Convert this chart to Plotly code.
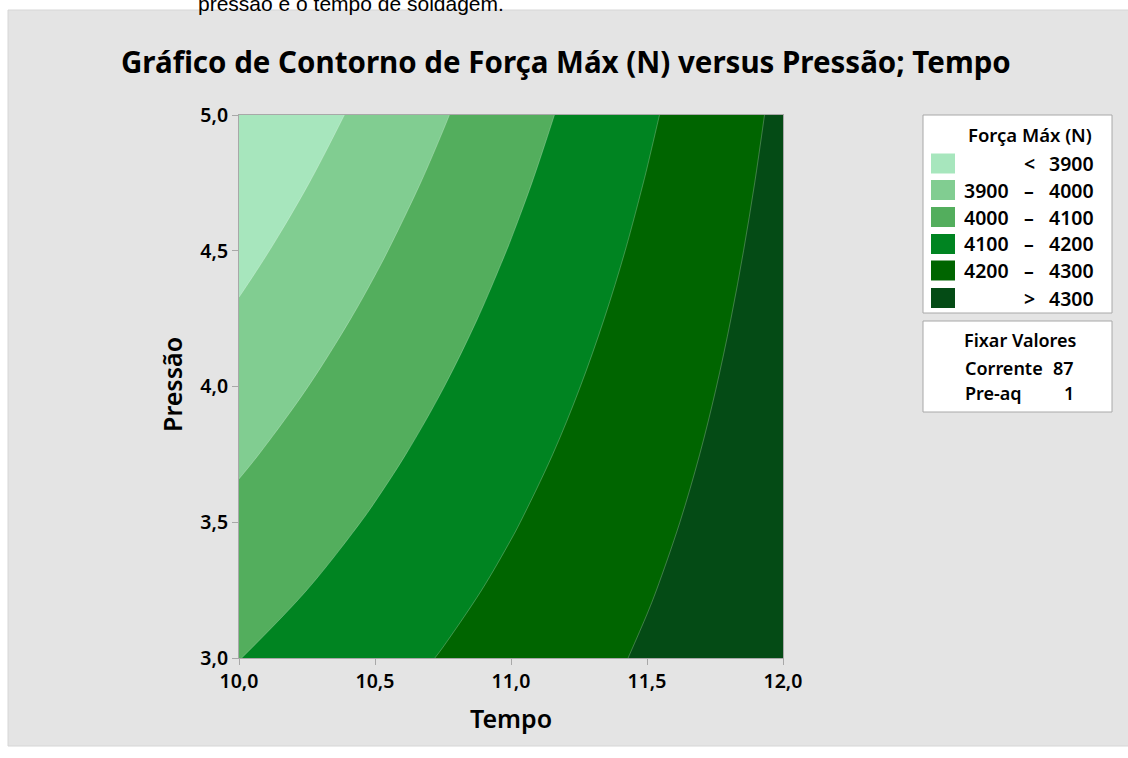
import plotly.graph_objects as go

# ---------------- data ----------------
tempo = [10.0, 10.25, 10.5, 10.75, 11.0, 11.25, 11.5, 11.75, 12.0]
pressao = [3.0, 3.25, 3.5, 3.75, 4.0, 4.25, 4.5, 4.75, 5.0]
# Força Máx (N) estimated on the grid: rows = pressao, cols = tempo
forca_max = [
    [4098.6, 4133.8, 4169.0, 4204.2, 4239.4, 4274.6, 4309.8, 4345.0, 4380.2],
    [4061.2, 4100.1, 4139.0, 4177.9, 4216.8, 4255.7, 4294.6, 4333.5, 4372.4],
    [4023.9, 4066.4, 4109.0, 4151.6, 4194.2, 4236.8, 4279.4, 4322.0, 4364.6],
    [3986.5, 4032.8, 4079.0, 4125.3, 4171.6, 4217.9, 4264.2, 4310.4, 4356.7],
    [3949.1, 3999.1, 4049.1, 4099.0, 4149.0, 4199.0, 4249.0, 4298.9, 4348.9],
    [3911.7, 3965.4, 4019.1, 4072.7, 4126.4, 4180.1, 4233.7, 4287.4, 4341.1],
    [3874.4, 3931.7, 3989.1, 4046.4, 4103.8, 4161.1, 4218.4, 4275.9, 4333.3],
    [3837.0, 3898.0, 3959.1, 4020.1, 4081.2, 4142.3, 4203.3, 4264.4, 4325.4],
    [3799.6, 3864.4, 3929.1, 3993.9, 4058.6, 4123.4, 4188.1, 4252.9, 4317.6],
]
levels = [3900, 4000, 4100, 4200, 4300]
band_colors = ["#a7e6bd", "#81cd91", "#53ae5d", "#008421", "#006500", "#044b15"]
x_ticks = [10.0, 10.5, 11.0, 11.5, 12.0]
y_ticks = [3.0, 3.5, 4.0, 4.5, 5.0]
fixed_names = ["Corrente", "Pre-aq"]
fixed_values = [87, 1]

title_text = "Gráfico de Contorno de Força Máx (N) versus Pressão; Tempo"
legend_title = "Força Máx (N)"
fixed_title = "Fixar Valores"
top_text = "pressão e o tempo de soldagem."

# ---------------- geometry helpers ----------------
W, H = 1128, 758
L, R, T, B = 239, 783, 115, 658  # plot area in pixels


def px(x):
    return (x - L) / (R - L)


def py(y):
    return (B - y) / (B - T)


FONT = "Noto Sans"
n = len(band_colors)
colorscale = [[i / (n - 1), c] for i, c in enumerate(band_colors)]

fig = go.Figure()
fig.add_trace(go.Contour(
    x=tempo, y=pressao, z=forca_max,
    autocontour=False,
    contours=dict(start=levels[0], end=levels[-1], size=levels[1] - levels[0],
                  coloring="fill", showlines=True),
    colorscale=colorscale,
    line=dict(color="rgba(255,255,255,0.35)", width=0.7),
    showscale=False,
    hoverinfo="skip",
))

shapes = []
annotations = []

# gray panel
shapes.append(dict(type="rect", xref="paper", yref="paper", layer="below",
                   x0=px(8), x1=px(1140), y0=py(746), y1=py(10),
                   fillcolor="#e4e4e4", line=dict(color="#d6d6d6", width=1)))

# cut-off text on top
annotations.append(dict(text=top_text, xref="paper", yref="paper",
                        x=px(196), y=py(3.0), xanchor="left", yanchor="middle",
                        showarrow=False,
                        font=dict(family="Liberation Sans", size=21, color="#000000")))

# title
annotations.append(dict(text=title_text, xref="paper", yref="paper",
                        x=px(566), y=py(62), xanchor="center", yanchor="middle",
                        showarrow=False,
                        font=dict(family=FONT, size=29.5, color="#000000", weight="bold")))

# axis titles
annotations.append(dict(text="Tempo", xref="paper", yref="paper",
                        x=px(511), y=py(718), xanchor="center", yanchor="middle",
                        showarrow=False,
                        font=dict(family=FONT, size=25, color="#000000", weight=600)))
annotations.append(dict(text="Pressão", xref="paper", yref="paper",
                        x=px(172), y=py(385), xanchor="center", yanchor="middle",
                        textangle=-90, showarrow=False,
                        font=dict(family=FONT, size=25, color="#000000", weight=600)))

# legend box 1
shapes.append(dict(type="rect", xref="paper", yref="paper", layer="below",
                   x0=px(923), x1=px(1112), y0=py(313), y1=py(115),
                   fillcolor="#ffffff", line=dict(color="#a8a8a8", width=1)))
annotations.append(dict(text=legend_title, xref="paper", yref="paper",
                        x=px(1030), y=py(134), xanchor="center", yanchor="middle",
                        showarrow=False,
                        font=dict(family=FONT, size=18.5, color="#000000", weight=600)))
row_y = [163.5, 190, 217, 244, 270.5, 298]
leg_font = dict(family=FONT, size=19.5, color="#000000", weight=600)
for i, c in enumerate(band_colors):
    yc = row_y[i]
    shapes.append(dict(type="rect", xref="paper", yref="paper", layer="below",
                       x0=px(931), x1=px(955), y0=py(yc + 10), y1=py(yc - 10),
                       fillcolor=c, line=dict(width=0)))
    if i == 0:
        left, mid, right = "", "<", str(levels[0])
    elif i == n - 1:
        left, mid, right = "", ">", str(levels[-1])
    else:
        left, mid, right = str(levels[i - 1]), "–", str(levels[i])
    if left:
        annotations.append(dict(text=left, xref="paper", yref="paper",
                                x=px(1011), y=py(yc), xanchor="right", yanchor="middle",
                                showarrow=False, font=leg_font))
    annotations.append(dict(text=mid, xref="paper", yref="paper",
                            x=px(1029), y=py(yc), xanchor="center", yanchor="middle",
                            showarrow=False, font=leg_font))
    annotations.append(dict(text=right, xref="paper", yref="paper",
                            x=px(1096), y=py(yc), xanchor="right", yanchor="middle",
                            showarrow=False, font=leg_font))

# legend box 2 (fixed values)
fix_font = dict(family=FONT, size=18, color="#000000", weight=600)
shapes.append(dict(type="rect", xref="paper", yref="paper", layer="below",
                   x0=px(923), x1=px(1112), y0=py(412), y1=py(321),
                   fillcolor="#ffffff", line=dict(color="#a8a8a8", width=1)))
annotations.append(dict(text=fixed_title, xref="paper", yref="paper",
                        x=px(1020), y=py(340), xanchor="center", yanchor="middle",
                        showarrow=False, font=fix_font))
fixed_y = [368, 393]
for name, val, yc in zip(fixed_names, fixed_values, fixed_y):
    annotations.append(dict(text=name, xref="paper", yref="paper",
                            x=px(963), y=py(yc), xanchor="left", yanchor="middle",
                            showarrow=False, font=fix_font))
    annotations.append(dict(text=str(val), xref="paper", yref="paper",
                            x=px(1076), y=py(yc), xanchor="right", yanchor="middle",
                            showarrow=False, font=fix_font))

axis_common = dict(showline=True, mirror=True, linecolor="#a8a8a8", linewidth=1,
                   ticks="outside", ticklen=6, tickcolor="#a8a8a8", tickwidth=1,
                   showgrid=False, zeroline=False, tickformat=".1f",
                   tickfont=dict(family=FONT, size=19.5, color="#000000", weight=600))

fig.update_layout(
    width=W, height=H,
    margin=dict(l=L, r=W - R, t=T, b=H - B, pad=0),
    paper_bgcolor="#ffffff",
    plot_bgcolor="#e4e4e4",
    separators=",.",
    showlegend=False,
    xaxis=dict(range=[10, 12], tickvals=x_ticks, **axis_common),
    yaxis=dict(range=[3, 5], tickvals=y_ticks, **axis_common),
    shapes=shapes,
    annotations=annotations,
)

fig.write_html("out.html",
               config={"displayModeBar": False, "staticPlot": True},
               post_script="document.body.style.margin='0';"
                           "document.body.style.overflow='hidden';")
